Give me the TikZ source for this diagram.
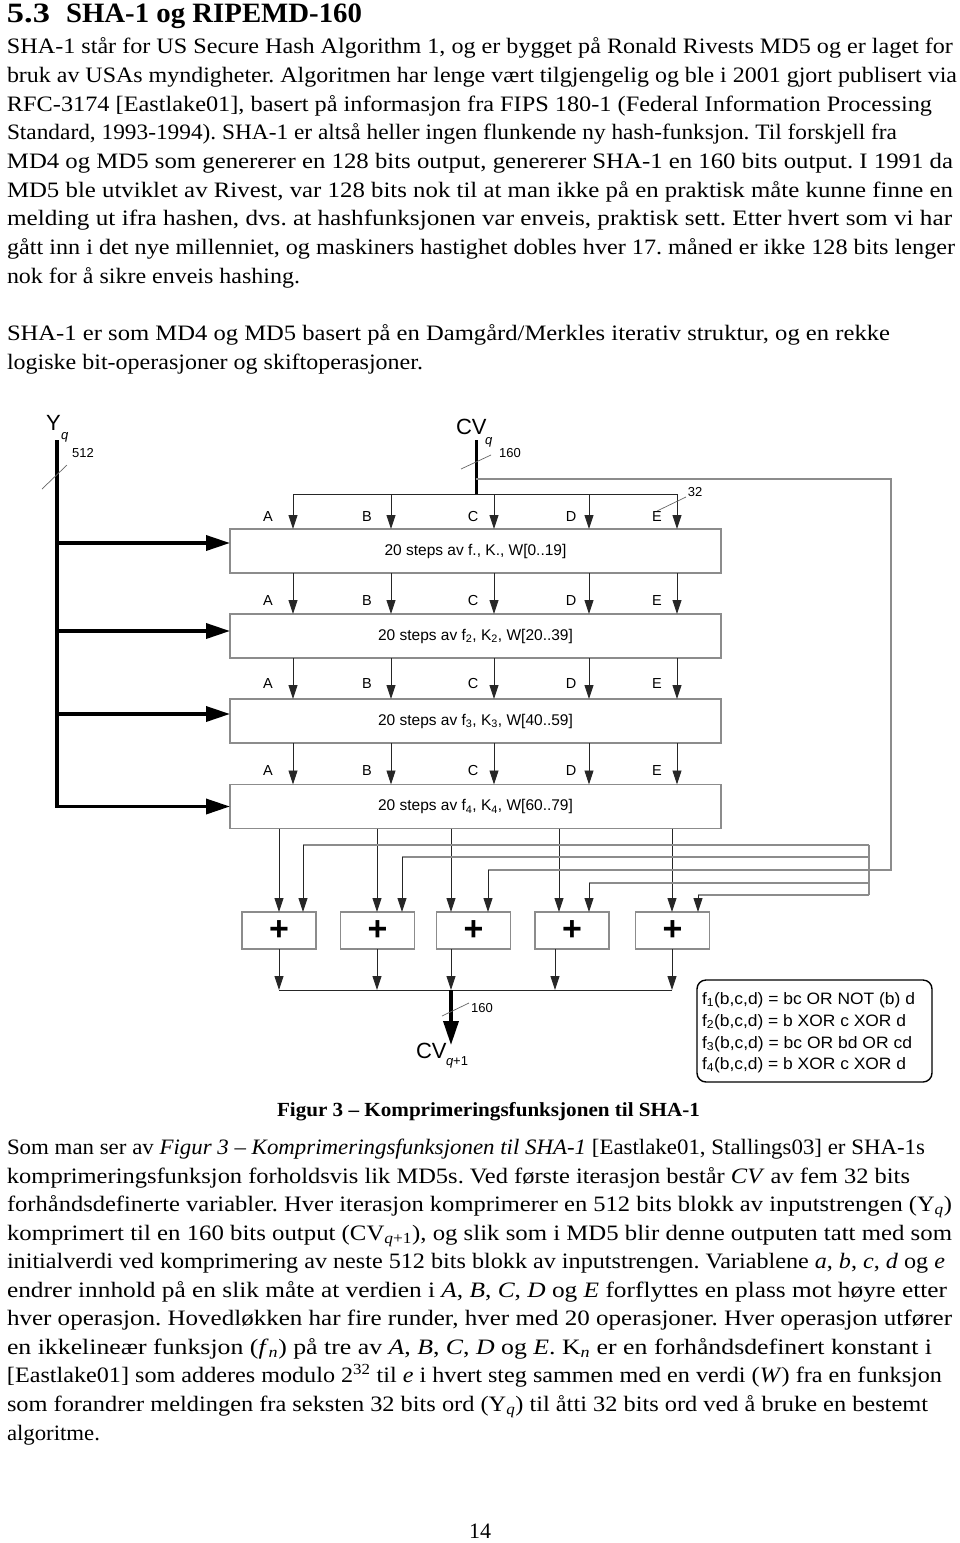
\documentclass[tikz,border=0pt]{standalone}
\usepackage{fontspec}
\usepackage{graphicx}
\setmainfont{Liberation Serif}
\newfontfamily\diag{Liberation Sans}
\usetikzlibrary{arrows.meta}
\definecolor{boxgray}{gray}{0.55}
\newcommand\fitline[2]{\resizebox{#1pt}{\height}{#2}}
\newcommand\bodysize{\fontsize{22}{28}\selectfont}
\frenchspacing
\begin{document}
\begin{tikzpicture}[x=1pt,y=-1pt,
  every node/.style={inner sep=0pt, outer sep=0pt},
  body/.style={anchor=base west, font=\bodysize\frenchspacing},
  stepbox/.style={draw=boxgray, line width=1.2pt, minimum width=491pt, minimum height=44pt, font=\diag\fontsize{15.5}{18}\selectfont},
  addbox/.style={draw=boxgray, line width=1.2pt, minimum width=74pt, minimum height=37pt, font=\diag\bfseries\fontsize{34}{34}\selectfont},
  lbl/.style={anchor=base, font=\diag\fontsize{14.5}{16}\selectfont},
  num/.style={font=\diag\fontsize{13}{15}\selectfont},
  legtext/.style={anchor=base west, font=\diag\fontsize{16.5}{18}\selectfont},
  wire/.style={draw=black!85, line width=0.9pt},
  arr/.style={wire, -{Triangle[length=14pt,width=9pt]}},
  fb/.style={draw=boxgray, line width=1.1pt},
  fat/.style={draw=black, line width=3.5pt},
  fatarr/.style={fat, -{Triangle[length=24pt,width=15pt]}},
  bitmark/.style={draw=black!60, line width=0.7pt},
]
\fill[white] (0,0) rectangle (960,1543);
\useasboundingbox (0,0) rectangle (960,1543);

% ---------------- heading and first paragraphs ----------------
\node[anchor=base west, font=\bfseries\fontsize{28}{30}\selectfont] (hnum) at (7,22) {\fitline{43}{5.3}};
\node[anchor=base west, font=\bfseries\fontsize{28}{30}\selectfont] (htitle) at (66,22) {\fitline{296}{SHA-1 og RIPEMD-160}};

\node[body] (a1) at (7,53) {\fitline{946}{SHA-1 står for US Secure Hash Algorithm 1, og er bygget på Ronald Rivests MD5 og er laget for}};
\node[body] (a2) at (7,82) {\fitline{950}{bruk av USAs myndigheter. Algoritmen har lenge vært tilgjengelig og ble i 2001 gjort publisert via}};
\node[body] (a3) at (7,111) {\fitline{925}{RFC-3174 [Eastlake01], basert på informasjon fra FIPS 180-1 (Federal Information Processing}};
\node[body] (a4) at (7,139) {\fitline{890}{Standard, 1993-1994). SHA-1 er altså heller ingen flunkende ny hash-funksjon. Til forskjell fra}};
\node[body] (a5) at (7,168) {\fitline{946}{MD4 og MD5 som genererer en 128 bits output, genererer SHA-1 en 160 bits output. I 1991 da}};
\node[body] (a6) at (7,197) {\fitline{946}{MD5 ble utviklet av Rivest, var 128 bits nok til at man ikke på en praktisk måte kunne finne en}};
\node[body] (a7) at (7,225) {\fitline{945}{melding ut ifra hashen, dvs. at hashfunksjonen var enveis, praktisk sett. Etter hvert som vi har}};
\node[body] (a8) at (7,254) {\fitline{948}{gått inn i det nye millenniet, og maskiners hastighet dobles hver 17. måned er ikke 128 bits lenger}};
\node[body] (a9) at (7,283) {\fitline{293}{nok for å sikre enveis hashing.}};

\node[body] (b1) at (7,340) {\fitline{883}{SHA-1 er som MD4 og MD5 basert på en Damgård/Merkles iterativ struktur, og en rekke}};
\node[body] (b2) at (7,369) {\fitline{416}{logiske bit-operasjoner og skiftoperasjoner.}};

% ---------------- diagram ----------------
% inputs
\node[anchor=base west, font=\diag\fontsize{22}{24}\selectfont] (Y) at (46,430) {Y};
\node[anchor=base west, font=\diag\itshape\fontsize{13}{15}\selectfont] (Yq) at (61,439) {q};
\node[anchor=base west, font=\diag\fontsize{22}{24}\selectfont] (CV) at (456,434) {CV};
\node[anchor=base west, font=\diag\itshape\fontsize{13}{15}\selectfont] (CVq) at (485,444) {q};

\coordinate (ytop) at (57,440);
\coordinate (cvtop) at (476,440);
\coordinate (bus) at (0,494);
\coordinate (fbtop) at (0,479);

% step boxes
\node[stepbox] (r1) at (475.5,551) {20 steps av f., K., W[0..19]};
\node[stepbox] (r2) at (475.5,636) {20 steps av f\textsubscript{2}, K\textsubscript{2}, W[20..39]};
\node[stepbox] (r3) at (475.5,721) {20 steps av f\textsubscript{3}, K\textsubscript{3}, W[40..59]};
\node[stepbox] (r4) at (475.5,806.5) {20 steps av f\textsubscript{4}, K\textsubscript{4}, W[60..79]};

% column positions
\coordinate (xA) at (293,0);
\coordinate (xB) at (391,0);
\coordinate (xC) at (494,0);
\coordinate (xD) at (589,0);
\coordinate (xE) at (677,0);

% Y_q thick line with branches
\coordinate (y1) at (57,543);
\coordinate (y2) at (57,631);
\coordinate (y3) at (57,714);
\draw[fat] (ytop) -- (y1);
\draw[fatarr] (ytop) |- (r4.west);
\draw[fatarr] (y1) -- (r1.west |- y1);
\draw[fatarr] (y2) -- (r2.west |- y2);
\draw[fatarr] (y3) -- (r3.west |- y3);
\draw[bitmark] (42,489) -- (67,465);
\node[num] (n512) at (83,453) {512};

% CV_q thick line and bus
\draw[draw=black, line width=3pt] (cvtop) -- (cvtop |- bus);
\draw[bitmark] (461,469) -- (491,455);
\node[num] (n160a) at (510,453) {160};
\draw[wire] (xA |- bus) -- (xE |- bus);
\foreach \c in {xA,xB,xC,xD,xE} {
  \draw[arr] (\c |- bus) -- (\c |- r1.north);
  \draw[arr] (\c |- r1.south) -- (\c |- r2.north);
  \draw[arr] (\c |- r2.south) -- (\c |- r3.north);
  \draw[arr] (\c |- r3.south) -- (\c |- r4.north);
}
\draw[bitmark] (657,511) -- (686,497);
\node[num] (n32) at (695,492) {32};

% A-E labels
\foreach \r/\yy in {1/521,2/605,3/688,4/775} {
  \node[lbl] (lA\r) at (268,\yy) {A};
  \node[lbl] (lB\r) at (367,\yy) {B};
  \node[lbl] (lC\r) at (473,\yy) {C};
  \node[lbl] (lD\r) at (571,\yy) {D};
  \node[lbl] (lE\r) at (657,\yy) {E};
}

% feedback from CV_q
\coordinate (fb1) at (891,479);
\coordinate (fb2) at (891,870);
\draw[fb] (cvtop |- fbtop) -- (fb1) -- (fb2) -- (488,870);
\draw[fb] (869,845) -- (869,895);

% addition boxes
\node[addbox] (p1) at (279,930.5) {+};
\node[addbox] (p2) at (377.5,930.5) {+};
\node[addbox] (p3) at (473.5,930.5) {+};
\node[addbox] (p4) at (572,930.5) {+};
\node[addbox] (p5) at (672.5,930.5) {+};

% left inputs from last step box
\coordinate (o1) at (279,0);
\coordinate (o2) at (377,0);
\coordinate (o3) at (451,0);
\coordinate (o4) at (559,0);
\coordinate (o5) at (672,0);
\foreach \o/\p in {o1/p1,o2/p2,o3/p3,o4/p4,o5/p5}
  \draw[arr] (\o |- r4.south) -- (\o |- \p.north);

% right inputs from feedback
\foreach \xx/\yy/\p in {303/845/p1,402/857/p2,488/870/p3,589/883/p4,698/895/p5} {
  \coordinate (f\p) at (\xx,\yy);
  \draw[fb] (869,\yy) -- (f\p);
  \draw[arr] (f\p) -- (f\p |- \p.north);
}

% outputs
\coordinate (obus) at (0,990);
\foreach \xx/\p in {279/p1,377/p2,451/p3,555/p4,672/p5} {
  \coordinate (u\p) at (\xx,0);
  \draw[arr] (u\p |- \p.south) -- (u\p |- obus);
}
\draw[wire] (up1 |- obus) -- (up5 |- obus);
\coordinate (cvend) at (451,1045);
\draw[fatarr] (up3 |- obus) -- (cvend);
\draw[bitmark] (442,1016) -- (469,1003);
\node[num] (n160b) at (482,1008) {160};
\node[anchor=base west, font=\diag\fontsize{22}{24}\selectfont] (CVo) at (416,1058) {CV};
\node[anchor=base west, font=\diag\fontsize{13}{15}\selectfont] (CVoq) at (446,1065) {\textit{q}+1};

% legend
\node[draw=black, rounded corners=9pt, line width=1.4pt, minimum width=235pt, minimum height=102pt] (leg) at (814.5,1031) {};
\node[legtext] (g1) at (702,1004) {\fitline{213}{f\textsubscript{1}(b,c,d) = bc OR NOT (b) d}};
\node[legtext] (g2) at (702,1026) {\fitline{204}{f\textsubscript{2}(b,c,d) = b XOR c XOR d}};
\node[legtext] (g3) at (702,1048) {\fitline{210}{f\textsubscript{3}(b,c,d) = bc OR bd OR cd}};
\node[legtext] (g4) at (702,1069) {\fitline{204}{f\textsubscript{4}(b,c,d) = b XOR c XOR d}};

% ---------------- caption and last paragraph ----------------
\node[anchor=base west, font=\bfseries\fontsize{20}{24}\selectfont] (cap) at (277,1116) {\fitline{423}{Figur 3 – Komprimeringsfunksjonen til SHA-1}};

\node[body] (c1) at (7,1154) {\fitline{918}{Som man ser av \textit{Figur 3 – Komprimeringsfunksjonen til SHA-1} [Eastlake01, Stallings03] er SHA-1s}};
\node[body] (c2) at (7,1183) {\fitline{903}{komprimeringsfunksjon forholdsvis lik MD5s. Ved første iterasjon består \textit{CV} av fem 32 bits}};
\node[body] (c3) at (7,1211) {\fitline{945}{forhåndsdefinerte variabler. Hver iterasjon komprimerer en 512 bits blokk av inputstrengen (Y\textsubscript{\textit{q}})}};
\node[body] (c4) at (7,1240) {\fitline{945}{komprimert til en 160 bits output (CV\textsubscript{\textit{q}+1}), og slik som i MD5 blir denne outputen tatt med som}};
\node[body] (c5) at (7,1268) {\fitline{938}{initialverdi ved komprimering av neste 512 bits blokk av inputstrengen. Variablene \textit{a}, \textit{b}, \textit{c}, \textit{d} og \textit{e}}};
\node[body] (c6) at (7,1297) {\fitline{940}{endrer innhold på en slik måte at verdien i \textit{A}, \textit{B}, \textit{C}, \textit{D} og \textit{E} forflyttes en plass mot høyre etter}};
\node[body] (c7) at (7,1325) {\fitline{945}{hver operasjon. Hovedløkken har fire runder, hver med 20 operasjoner. Hver operasjon utfører}};
\node[body] (c8) at (7,1354) {\fitline{925}{en ikkelineær funksjon (\textit{f}\textsubscript{\textit{n}}) på tre av \textit{A}, \textit{B}, \textit{C}, \textit{D} og \textit{E}. K\textsubscript{\textit{n}} er en forhåndsdefinert konstant i}};
\node[body] (c9) at (7,1382) {\fitline{935}{[Eastlake01] som adderes modulo 2\textsuperscript{32} til \textit{e} i hvert steg sammen med en verdi (\textit{W}) fra en funksjon}};
\node[body] (c10) at (7,1411) {\fitline{921}{som forandrer meldingen fra seksten 32 bits ord (Y\textsubscript{\textit{q}}) til åtti 32 bits ord ved å bruke en bestemt}};
\node[body] (c11) at (7,1440) {\fitline{93}{algoritme.}};

\node[anchor=base, font=\bodysize] (page) at (480,1538) {14};
\end{tikzpicture}
\end{document}
